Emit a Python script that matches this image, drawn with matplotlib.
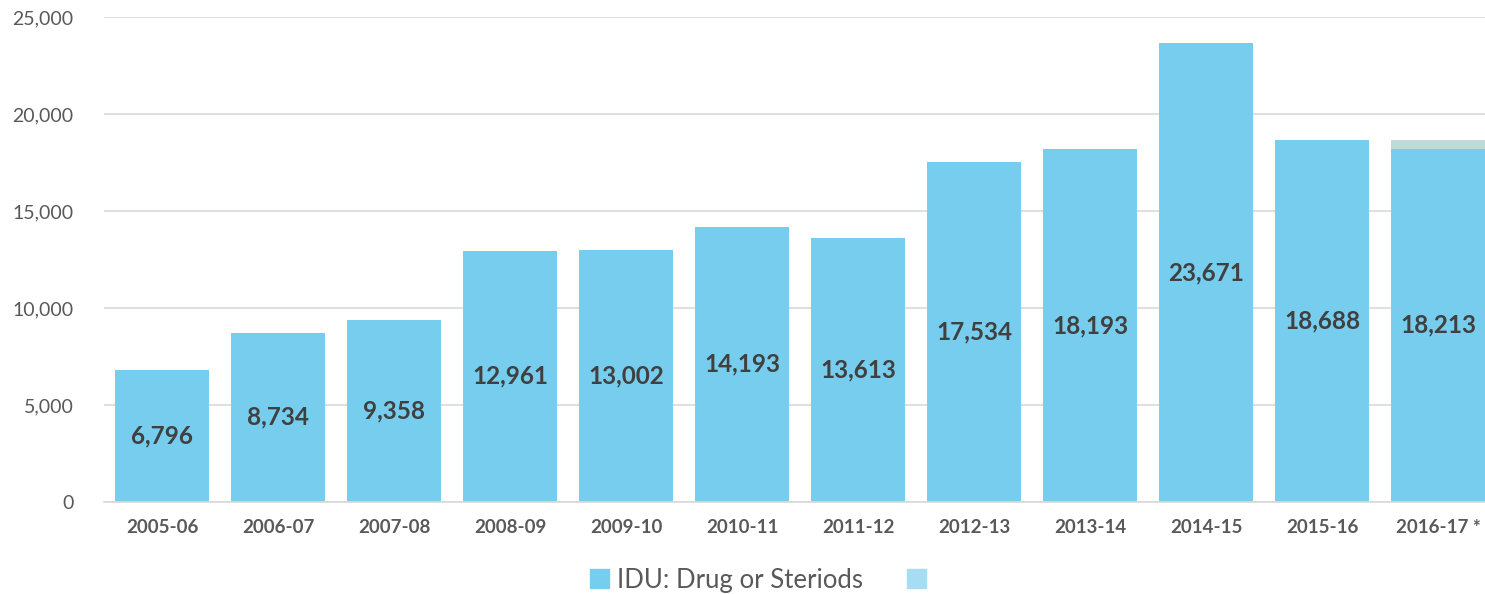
import numpy as np
import matplotlib.pyplot as plt
from matplotlib.patches import Patch

years = ['2005-06', '2006-07', '2007-08', '2008-09', '2009-10', '2010-11',
         '2011-12', '2012-13', '2013-14', '2014-15', '2015-16', '2016-17 *']
idu = [6796, 8734, 9358, 12961, 13002, 14193, 13613, 17534, 18193, 23671, 18688, 18213]
# small extra segment on top of the last (partial year) bar
extra = [0, 0, 0, 0, 0, 0, 0, 0, 0, 0, 0, 475]

plt.rcParams['font.family'] = ['Lato', 'DejaVu Sans']

fig = plt.figure(figsize=(14.85, 5.94), dpi=100)
ax = fig.add_axes([0.070, 0.155, 0.930, 0.816])

x = np.arange(len(years))
w = 0.81
ax.bar(x, idu, width=w, color='#77CDEE', zorder=2)
ax.bar(x, extra, width=w, bottom=idu, color='#BEDBDB', zorder=2)

for i, v in enumerate(idu):
    ax.text(x[i], v / 2, f'{v:,}', ha='center', va='center', fontsize=17.5,
            fontweight='bold', color='#404040', zorder=3)

ax.set_ylim(0, 25000)
ax.set_xlim(-0.5, 11.5 - 11 / 116)
ax.set_yticks(np.arange(0, 25001, 5000))
ax.set_yticklabels([f'{t:,}' for t in range(0, 25001, 5000)], fontsize=14, color='#595959')
ax.set_xticks(x)
ax.set_xticklabels(years, fontsize=13.5, fontweight='bold', color='#595959')
ax.tick_params(axis='y', length=0, pad=22)
ax.tick_params(axis='x', length=0, pad=12)
ax.grid(axis='y', color='#D9D9D9', linewidth=1.2, zorder=0)
for s in ['top', 'right', 'left']:
    ax.spines[s].set_visible(False)
ax.spines['bottom'].set_color('#D9D9D9')
ax.spines['bottom'].set_linewidth(1.2)

handles = [Patch(color='#77CDEE'), Patch(color='#A6DDF2')]
fig.legend(handles, ['IDU: Drug or Steriods', ''], loc='center', bbox_to_anchor=(0.513, 0.023),
           ncol=2, frameon=False, fontsize=18.5, handlelength=0.75, handleheight=0.75,
           handletextpad=0.3, columnspacing=1.7, labelcolor='#595959')

fig.savefig('out.png', dpi=100)
